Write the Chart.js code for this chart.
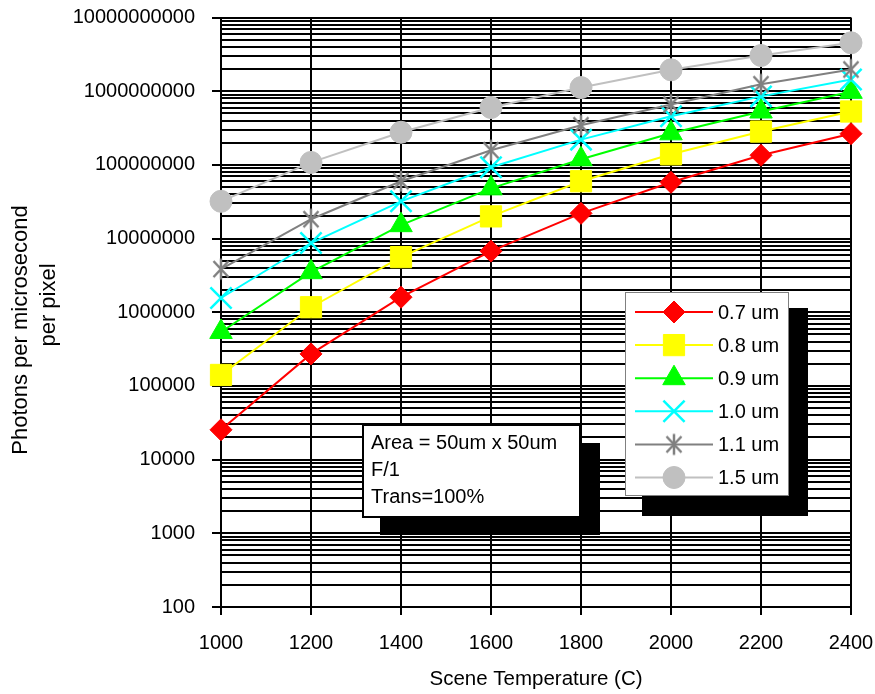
<!DOCTYPE html>
<html><head><meta charset="utf-8">
<script src="https://cdn.jsdelivr.net/npm/chart.js@4/dist/chart.umd.min.js"></script>
<style>html,body{margin:0;padding:0;background:#fff}#wrap{width:875px;height:694px}</style>
</head><body><div id="wrap"><canvas id="c" width="875" height="694"></canvas></div>
<script>
// ---- data ----
const temperatures = [1000, 1200, 1400, 1600, 1800, 2000, 2200, 2400];
const series07 = [25400, 272000, 1.6e6, 6.75e6, 2.2e7, 5.8e7, 1.35e8, 2.65e8];
const series08 = [1.41e5, 1.17e6, 5.6e6, 2.0e7, 6.0e7, 1.39e8, 2.83e8, 5.3e8];
const series09 = [5.4e5, 3.5e6, 1.52e7, 4.8e7, 1.19e8, 2.68e8, 5.3e8, 9.8e8];
const series10 = [1.56e6, 8.7e6, 3.2e7, 9.3e7, 2.2e8, 4.56e8, 8.5e8, 1.44e9];
const series11 = [3.85e6, 1.83e7, 6.0e7, 1.58e8, 3.44e8, 6.6e8, 1.24e9, 1.97e9];
const series15 = [3.2e7, 1.08e8, 2.77e8, 6.0e8, 1.12e9, 1.95e9, 3.05e9, 4.54e9];
const seriesLabels = ['0.7 um', '0.8 um', '0.9 um', '1.0 um', '1.1 um', '1.5 um'];
const yTickLabels = ['100', '1000', '10000', '100000', '1000000', '10000000', '100000000', '1000000000', '10000000000'];
const xTickLabels = ['1000', '1200', '1400', '1600', '1800', '2000', '2200', '2400'];
const noteLines = ['Area = 50um x 50um', 'F/1', 'Trans=100%'];
const xTitle = 'Scene Temperature (C)';
const yTitleLines = ['Photons per microsecond', 'per pixel'];

const FONT = "'Liberation Sans', Arial, sans-serif";

// y ticks: majors from labels, minors 2..9 between them
const majorValues = yTickLabels.map(Number);
const yTickValues = [];
for (let i = 0; i < majorValues.length - 1; i++) {
  for (let k = 1; k <= 9; k++) yTickValues.push(majorValues[i] * k);
}
yTickValues.push(majorValues[majorValues.length - 1]);

function makeStar(color) {
  const c = document.createElement('canvas');
  c.width = 24; c.height = 24;
  const g = c.getContext('2d');
  g.strokeStyle = color; g.lineWidth = 2.5;
  g.beginPath();
  g.moveTo(4.5, 4); g.lineTo(19.5, 20);
  g.moveTo(19.5, 4); g.lineTo(4.5, 20);
  g.moveTo(12, 1.5); g.lineTo(12, 22.5);
  g.stroke();
  return c;
}
const starImg = makeStar('#808080');

const styles = [
  { color: '#FF0000', pointStyle: 'rectRot', radius: 11, bw: 1 },
  { color: '#FFFF00', pointStyle: 'rect', radius: 15, bw: 1 },
  { color: '#00FF00', pointStyle: 'triangle', radius: 13, bw: 1 },
  { color: '#00FFFF', pointStyle: 'crossRot', radius: 15, bw: 2.5 },
  { color: '#808080', pointStyle: starImg, radius: 12, bw: 1 },
  { color: '#C0C0C0', pointStyle: 'circle', radius: 11, bw: 1 }
];
const allSeries = [series07, series08, series09, series10, series11, series15];

const datasets = allSeries.map((arr, i) => ({
  label: seriesLabels[i],
  data: temperatures.map((t, j) => ({ x: t, y: arr[j] })),
  borderColor: styles[i].color,
  backgroundColor: styles[i].color,
  borderWidth: 2,
  pointStyle: styles[i].pointStyle,
  pointRadius: styles[i].radius,
  pointBorderWidth: styles[i].bw,
  pointBorderColor: styles[i].color,
  pointBackgroundColor: styles[i].color,
  tension: 0,
  clip: false,
  order: allSeries.length - i
}));

const deco = {
  id: 'deco',
  beforeDatasetsDraw(chart) {
    const ctx = chart.ctx;
    ctx.save();
    // note box
    ctx.fillStyle = '#000';
    ctx.fillRect(380, 443, 220, 92);
    ctx.fillStyle = '#fff';
    ctx.fillRect(363, 425, 217, 92);
    ctx.strokeStyle = '#000'; ctx.lineWidth = 2;
    ctx.strokeRect(363, 425, 217, 92);
    ctx.fillStyle = '#000';
    ctx.font = '20px ' + FONT;
    ctx.textAlign = 'left'; ctx.textBaseline = 'middle';
    noteLines.forEach((t, i) => ctx.fillText(t, 371, 443 + i * 27));
    // legend box
    ctx.fillStyle = '#000';
    ctx.fillRect(642, 308, 166, 208);
    ctx.fillStyle = '#fff';
    ctx.fillRect(625, 292, 163, 203);
    ctx.strokeStyle = '#808080'; ctx.lineWidth = 1;
    ctx.strokeRect(625.5, 292.5, 163, 203);
    ctx.restore();
  },
  afterDatasetsDraw(chart) {
    const ctx = chart.ctx;
    ctx.save();
    datasets.forEach((ds, i) => {
      const y = 312 + i * 33.1;
      ctx.strokeStyle = ds.borderColor; ctx.lineWidth = 2;
      ctx.beginPath(); ctx.moveTo(635, y); ctx.lineTo(713, y); ctx.stroke();
      ctx.fillStyle = ds.pointBackgroundColor;
      ctx.strokeStyle = ds.pointBorderColor;
      ctx.lineWidth = ds.pointBorderWidth;
      Chart.helpers.drawPoint(ctx, { pointStyle: ds.pointStyle, radius: ds.pointRadius, borderWidth: ds.pointBorderWidth, rotation: 0 }, 674, y);
      ctx.fillStyle = '#000';
      ctx.font = '20px ' + FONT;
      ctx.textAlign = 'left'; ctx.textBaseline = 'middle';
      ctx.fillText(ds.label, 718, y + 1);
    });
    // titles
    ctx.fillStyle = '#000';
    ctx.textAlign = 'center'; ctx.textBaseline = 'middle';
    ctx.font = '20.5px ' + FONT;
    ctx.fillText(xTitle, 536, 679);
    ctx.font = '22px ' + FONT;
    ctx.save(); ctx.translate(21, 330); ctx.rotate(-Math.PI / 2); ctx.fillText(yTitleLines[0], 0, 0); ctx.restore();
    ctx.save(); ctx.translate(49, 305); ctx.rotate(-Math.PI / 2); ctx.fillText(yTitleLines[1], 0, 0); ctx.restore();
    ctx.restore();
  }
};

function zeroPad(scale) {
  scale.paddingTop = 0; scale.paddingBottom = 0;
  scale.paddingLeft = 0; scale.paddingRight = 0;
}

new Chart(document.getElementById('c'), {
  type: 'line',
  data: { datasets },
  options: {
    responsive: false,
    animation: false,
    devicePixelRatio: 1,
    layout: { padding: { left: 0, right: 24, top: 16, bottom: 0 } },
    plugins: { legend: { display: false }, tooltip: { enabled: false } },
    scales: {
      x: {
        type: 'linear', min: 1000, max: 2400,
        afterBuildTicks(scale) { scale.ticks = xTickLabels.map(l => ({ value: Number(l) })); },
        afterFit(scale) { scale.height = 87; zeroPad(scale); },
        ticks: {
          autoSkip: false, maxRotation: 0, color: '#000', padding: 16,
          font: { family: FONT, size: 20 },
          callback: (v) => { const i = xTickLabels.indexOf(String(v)); return i >= 0 ? xTickLabels[i] : ''; }
        },
        grid: { color: '#000', lineWidth: 2, tickLength: 8, tickColor: '#000' },
        border: { color: '#000', width: 2 }
      },
      y: {
        type: 'logarithmic', min: 100, max: 1e10,
        afterBuildTicks(scale) { scale.ticks = yTickValues.map(v => ({ value: v })); },
        afterFit(scale) { scale.width = 221; zeroPad(scale); },
        ticks: {
          autoSkip: false, color: '#000', padding: 17,
          font: { family: FONT, size: 20 },
          callback: (v) => { const i = majorValues.indexOf(v); return i >= 0 ? yTickLabels[i] : ''; }
        },
        grid: {
          color: '#000', lineWidth: 2, tickLength: 9,
          tickColor: (c) => (c.tick && majorValues.indexOf(c.tick.value) >= 0) ? '#000' : 'rgba(0,0,0,0)'
        },
        border: { color: '#000', width: 2 }
      }
    }
  },
  plugins: [deco]
});
</script></body></html>
